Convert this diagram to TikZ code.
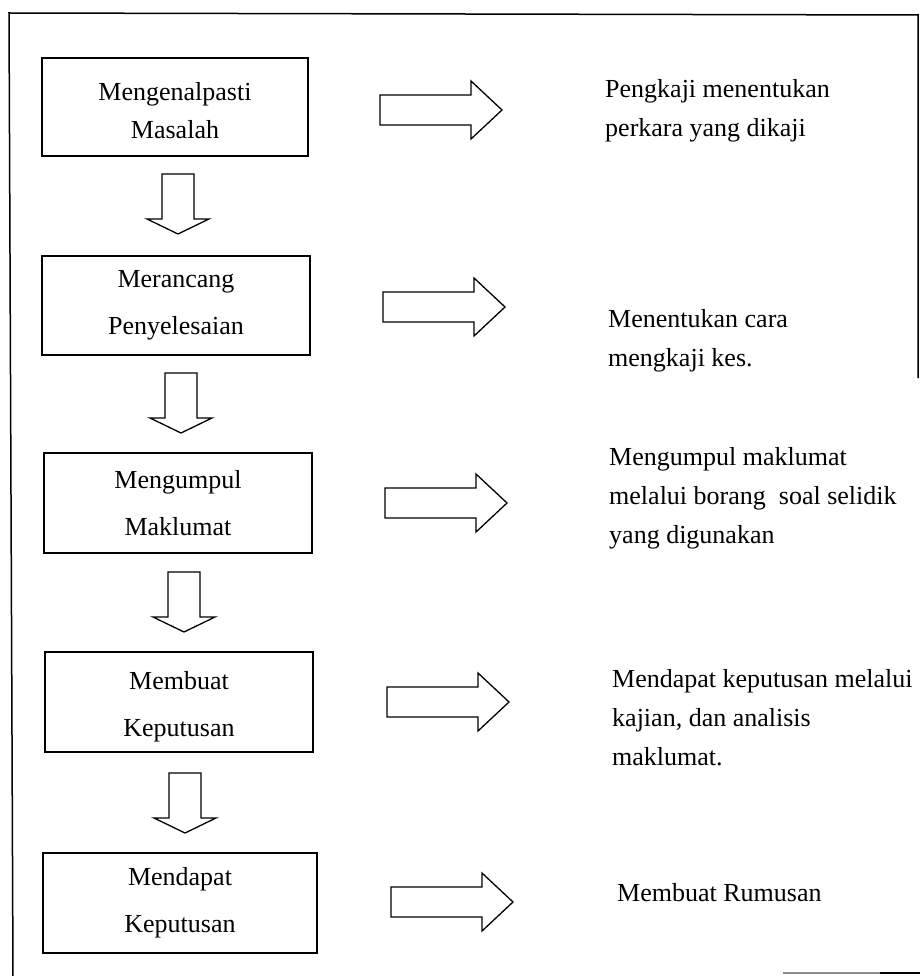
\documentclass[tikz,border=0pt]{standalone}
\usepackage{fontspec}
\setmainfont{Liberation Serif}
\begin{document}
\begin{tikzpicture}[x=1pt, y=-1pt,
  stepbox/.style={draw, line width=1.3pt, inner sep=0pt, align=center,
    minimum height=100pt, font=\fontsize{26}{47}\selectfont},
  note/.style={anchor=west, inner sep=0pt, align=left,
    font=\fontsize{26}{39}\selectfont},
  blockarrow/.style={draw, line width=1.3pt, line join=miter},
  framerule/.style={line width=1.5pt},
  pics/downarrow/.style={code={
    \draw[blockarrow] (-16,0) -- (16,0) -- (16,45) -- (31,45) -- (0,60)
      -- (-31,45) -- (-16,45) -- cycle;}},
  pics/rightarrow/.style={code={
    \draw[blockarrow] (0,-15) -- (91,-15) -- (91,-29) -- (122,0) -- (91,29)
      -- (91,15) -- (0,15) -- cycle;}},
]
\useasboundingbox (0,0) rectangle (920,976);

% outer frame
\draw[framerule] (918,378) -- (918,15) -- (9,13) -- (13,976);
\draw[framerule, black!45] (783,973) -- (880,973);
\draw[framerule] (880,973) -- (920,973);

% process steps (a strut on the first line lowers the text a little)
\node[stepbox, minimum width=266pt, minimum height=98pt,
      font=\fontsize{26}{38}\selectfont] (b1) at (175,107)
      {\rule{0pt}{26pt}Mengenalpasti\\Masalah};
\node[stepbox, minimum width=268pt, minimum height=99pt] (b2) at (176,305.5) {Merancang\\Penyelesaian};
\node[stepbox, minimum width=268pt] (b3) at (178,503) {Mengumpul\\Maklumat};
\node[stepbox, minimum width=268pt] (b4) at (179,702) {\rule{0pt}{28pt}Membuat\\Keputusan};
\node[stepbox, minimum width=274pt] (b5) at (180,903) {Mendapat\\Keputusan};

% arrows between steps
\pic at (178,174) {downarrow};
\pic at (181,373) {downarrow};
\pic at (184,572) {downarrow};
\pic at (185,773) {downarrow};

% arrows towards the descriptions
\pic at (380,110) {rightarrow};
\pic at (383,307) {rightarrow};
\pic at (385,503) {rightarrow};
\pic at (387,702) {rightarrow};
\pic at (391,902) {rightarrow};

% descriptions
\node[note] (t1) at (605,111) {Pengkaji menentukan\\perkara yang dikaji};
\node[note] (t2) at (608,341) {Menentukan cara\\mengkaji kes.};
\node[note] (t3) at (609,498) {Mengumpul maklumat\\melalui borang\ \ soal selidik\\yang digunakan};
\node[note] (t4) at (612,718) {Mendapat keputusan melalui\\kajian, dan analisis\\maklumat.};
\node[note] (t5) at (617,893) {Membuat Rumusan};
\end{tikzpicture}
\end{document}
